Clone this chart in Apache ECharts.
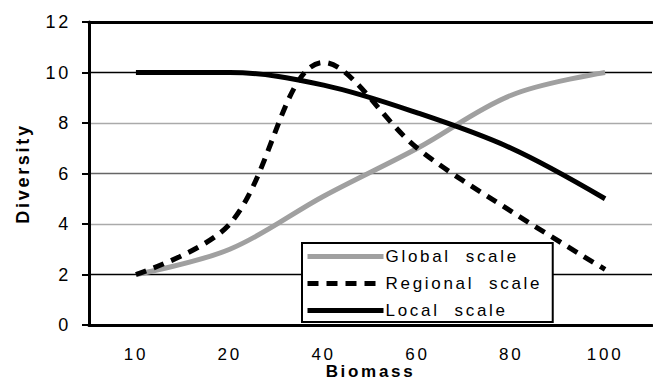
<!DOCTYPE html>
<html>
<head>
<meta charset="utf-8">
<script src="https://cdn.jsdelivr.net/npm/echarts@6/dist/echarts.min.js"></script>
<style>
  html, body { margin: 0; padding: 0; background: #fff; }
  #chart { width: 653px; height: 384px; }
  /* the original text is widely letter-spaced */
  #chart svg text { letter-spacing: 2.7px; }
</style>
</head>
<body>
<div id="chart"></div>
<script>
var biomass = ['10', '20', '40', '60', '80', '100'];
var globalScale = [2, 3, 5.1, 7, 9.1, 10];
var regionalScale = [2, 4, 10.4, 7, 4.5, 2.2];
var localScale = [10, 10, 9.5, 8.4, 7, 5];
var yTicks = [0, 2, 4, 6, 8, 10, 12];

var font = 'Liberation Sans, Arial, sans-serif';
var myChart = echarts.init(document.getElementById('chart'), null, { renderer: 'svg' });
var option = {
    animation: false,
    grid: { left: 89, right: 1, top: 22, bottom: 59, outerBoundsMode: 'none' },
    legend: {
        orient: 'vertical',
        left: 302,
        top: 243,
        backgroundColor: '#fff',
        borderColor: '#000',
        borderWidth: 2,
        borderRadius: 0,
        padding: [5, 51, 3, 3],
        itemWidth: 76,
        itemHeight: 14,
        itemGap: 10,
        itemStyle: { color: 'transparent', borderWidth: 0, opacity: 0 },
        lineStyle: { width: 5 },
        textStyle: { fontFamily: font, fontSize: 17, lineHeight: 14, color: '#000', padding: [0, 0, 0, -3] },
        formatter: function (name) { return name.split(' ').join('  '); },
        data: ['Global scale', 'Regional scale', 'Local scale']
    },
    xAxis: [{
        type: 'category',
        data: biomass,
        boundaryGap: true,
        name: 'Biomass',
        nameLocation: 'middle',
        nameGap: 39,
        nameMoveOverlap: false,
        nameTextStyle: { fontFamily: font, fontSize: 17, lineHeight: 14, fontWeight: 'bold', color: '#000' },
        axisLine: { lineStyle: { color: '#000', width: 3 } },
        axisTick: { length: 7, lineStyle: { color: '#000', width: 2 } },
        axisLabel: { fontFamily: font, fontSize: 17, lineHeight: 16, color: '#000', margin: 21 }
    }, {
        type: 'category',
        data: biomass,
        position: 'top',
        axisLine: { lineStyle: { color: '#000', width: 3 } },
        axisTick: { show: false },
        axisLabel: { show: false }
    }],
    yAxis: {
        type: 'value',
        min: yTicks[0],
        max: yTicks[yTicks.length - 1],
        interval: 2,
        name: 'Diversity',
        nameLocation: 'middle',
        nameGap: 57,
        nameMoveOverlap: false,
        nameTextStyle: { fontFamily: font, fontSize: 18, fontWeight: 'bold', color: '#000' },
        axisLine: { show: true, lineStyle: { color: '#000', width: 3 } },
        axisTick: { show: true, length: 7, lineStyle: { color: '#000', width: 2 } },
        axisLabel: { fontFamily: font, fontSize: 18, color: '#000', margin: 18 },
        splitLine: {
            show: true,
            lineStyle: {
                color: ['#000', '#000', '#aaa', '#666', '#aaa', '#000', '#000'],
                width: 1.3
            }
        }
    },
    series: [
        {
            name: 'Global scale',
            type: 'line',
            data: globalScale,
            smooth: 0.35,
            symbol: 'none',
            lineStyle: { color: '#a0a0a0', width: 5 },
            itemStyle: { color: '#a0a0a0' }
        },
        {
            name: 'Regional scale',
            type: 'line',
            data: regionalScale,
            smooth: 0.35,
            symbol: 'none',
            lineStyle: { color: '#000', width: 5, type: [11, 8] },
            itemStyle: { color: '#000' }
        },
        {
            name: 'Local scale',
            type: 'line',
            data: localScale,
            smooth: 0.35,
            symbol: 'none',
            lineStyle: { color: '#000', width: 5 },
            itemStyle: { color: '#000' }
        }
    ]
};
myChart.setOption(option);
</script>
</body>
</html>
